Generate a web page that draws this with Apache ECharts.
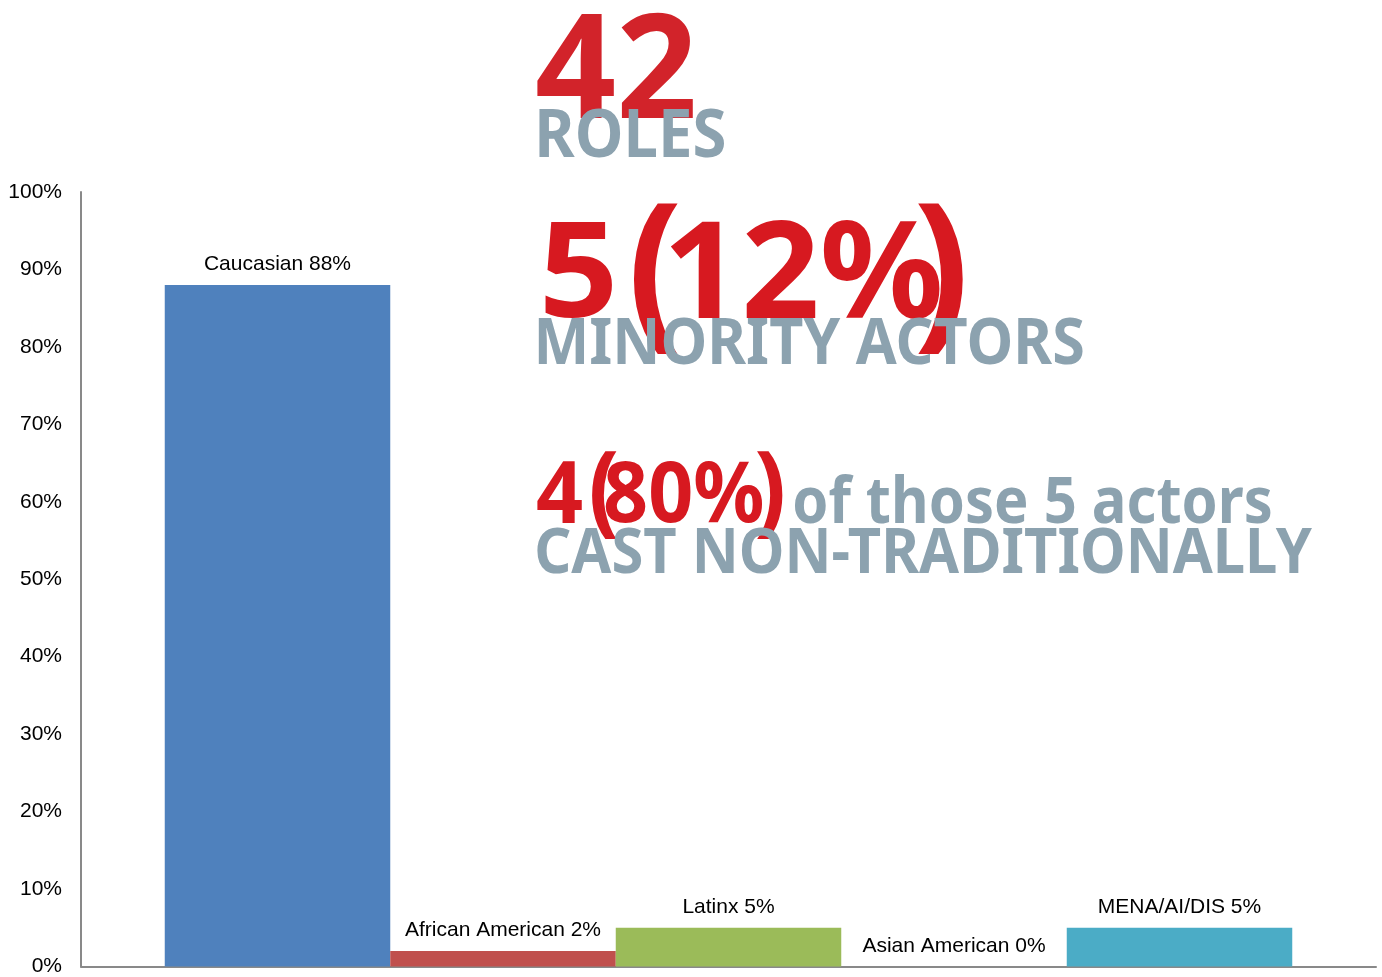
<!DOCTYPE html>
<html>
<head>
<meta charset="utf-8">
<script src="https://cdn.jsdelivr.net/npm/echarts@6/dist/echarts.min.js"></script>
<style>
  html, body { margin: 0; padding: 0; background: #fff; }
  #chart { width: 1382px; height: 977px; }
</style>
</head>
<body>
<div id="chart"></div>
<script>
// Casting breakdown by group (share of roles, %)
const categories = ['Caucasian', 'African American', 'Latinx', 'Asian American', 'MENA/AI/DIS'];
const shares = [88, 2, 5, 0, 5];

// Value axis range and step (percent)
const yMin = 0;
const yMax = 100;
const yStep = 10;

// Headline statistics shown beside the bars
const headlineText = ['42', 'ROLES', '5', '(', '12%', ')', 'MINORITY ACTORS',
                      '4', '(', '80%', ')', 'of those 5 actors', 'CAST NON-TRADITIONALLY'];

// ---- styling ----
const barColors = ['#4F81BD', '#C0504D', '#9BBB59', '#8064A2', '#4BACC6'];
const RED = '#D71920';
const RED_TOP = '#D2232A';
const GREY = '#8CA2AF';
const HEAD_FONT = '"Noto Sans"';
const CHART_FONT = '"Liberation Sans", Arial, sans-serif';

// Ink boxes for each headline piece: [left, right, top, bottom, reference glyph, colour]
const headlineLayout = [
  [537, 693, 12.7, 118, '4', RED_TOP],
  [539, 725, 109, 157, 'R', GREY],
  [545, 612, 221, 318, '5', RED],
  [633, 678, 203, 355, '(', RED],
  [670, 940, 221, 318, '1', RED],
  [918, 963, 203, 355, ')', RED],
  [538, 1083, 318, 365, 'M', GREY],
  [537, 582, 461, 523, '4', RED],
  [592, 617, 451, 540, '(', RED],
  [605, 763, 461, 523, '8', RED],
  [757, 783, 451, 540, ')', RED],
  [794, 1271, 474, 523, 'h', GREY],
  [537, 1312, 527, 573, 'C', GREY]
];

const measureCtx = document.createElement('canvas').getContext('2d');

// Build a text element sized so the reference glyph spans top..bottom
// and the whole string spans left..right (horizontal squeeze via scaleX).
function fittedText(text, box, weight) {
  const [left, right, top, bottom, ref, color] = box;
  measureCtx.textBaseline = 'middle';
  measureCtx.textAlign = 'left';
  measureCtx.font = weight + ' 100px ' + HEAD_FONT;
  const m100 = measureCtx.measureText(ref);
  const refH = m100.actualBoundingBoxAscent + m100.actualBoundingBoxDescent;
  const size = 100 * (bottom - top) / refH;
  measureCtx.font = weight + ' ' + size + 'px ' + HEAD_FONT;
  const mRef = measureCtx.measureText(ref);
  const y = top + mRef.actualBoundingBoxAscent;
  const m = measureCtx.measureText(text);
  const inkW = m.actualBoundingBoxLeft + m.actualBoundingBoxRight;
  const sx = (right - left) / inkW;
  const x = left + m.actualBoundingBoxLeft * sx;
  return {
    type: 'text',
    x: x,
    y: y,
    scaleX: sx,
    silent: true,
    style: {
      text: text,
      fill: color,
      fontSize: size,
      fontWeight: weight,
      fontFamily: HEAD_FONT,
      align: 'left',
      verticalAlign: 'middle'
    }
  };
}

const redPieces = [];
const greyPieces = [];
headlineText.forEach((t, i) => {
  const box = headlineLayout[i];
  const el = fittedText(t, box, 'bold');
  if (box[5] === GREY) greyPieces.push(el); else redPieces.push(el);
});

const chart = echarts.init(document.getElementById('chart'), null, { renderer: 'canvas' });

chart.setOption({
  animation: false,
  backgroundColor: '#ffffff',
  grid: { left: 81, right: 6, top: 192, bottom: 10, containLabel: false },
  xAxis: {
    type: 'category',
    data: [''],
    axisLine: { show: true, lineStyle: { color: '#898989', width: 2 } },
    axisTick: { show: false },
    axisLabel: { show: false },
    splitLine: { show: false }
  },
  yAxis: {
    type: 'value',
    min: yMin,
    max: yMax,
    interval: yStep,
    axisLine: { show: true, lineStyle: { color: '#898989', width: 2 } },
    axisTick: { show: false },
    splitLine: { show: false },
    axisLabel: {
      formatter: '{value}%',
      color: '#000',
      fontSize: 21,
      fontFamily: CHART_FONT,
      margin: 19
    }
  },
  series: categories.map((name, i) => ({
    name: name,
    type: 'bar',
    data: [shares[i]],
    barWidth: 225.5,
    barGap: '0%',
    itemStyle: { color: barColors[i] },
    label: {
      show: true,
      position: 'top',
      distance: 10,
      formatter: '{a} {c}%',
      color: '#000',
      fontSize: 21,
      fontFamily: CHART_FONT
    }
  })),
  graphic: { elements: redPieces.concat(greyPieces) }
});
</script>
</body>
</html>
